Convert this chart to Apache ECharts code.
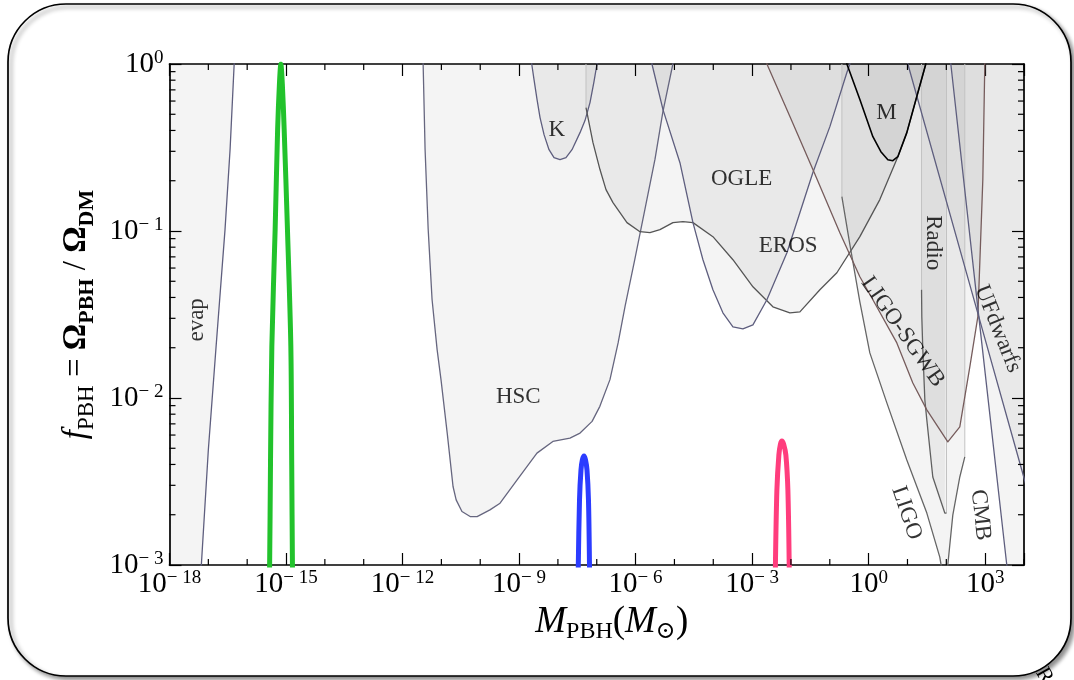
<!DOCTYPE html>
<html><head><meta charset="utf-8">
<script src="https://cdn.jsdelivr.net/npm/echarts@6/dist/echarts.min.js"></script>
<style>html,body{margin:0;padding:0;background:#fff}#c{width:1074px;height:680px}</style>
</head><body><div id="c"></div>
<script>
// ---- data: each point is [log10 M_PBH (M_sun), log10 f_PBH] ----
const evap = [[-18.3,-3.3],[-17.18,-3.0],[-17.0,-2.31],[-16.8,-1.69],[-16.57,-0.99],[-16.44,-0.51],[-16.335,0],[-16.3,0.2]];
const hsc = [[-11.50,0.3],[-11.47,0],[-11.42,-0.51],[-11.34,-0.99],[-11.24,-1.41],[-11.11,-1.71],[-11.01,-1.89],[-10.85,-2.21],[-10.70,-2.53],[-10.62,-2.61],[-10.47,-2.68],[-10.26,-2.71],[-10.08,-2.71],[-9.75,-2.67],[-9.49,-2.63],[-9.05,-2.49],[-8.54,-2.33],[-8.13,-2.26],[-7.69,-2.24],[-7.43,-2.21],[-7.12,-2.14],[-6.92,-2.05],[-6.66,-1.89],[-6.45,-1.67],[-6.27,-1.45],[-6.02,-1.17],[-5.76,-0.87],[-5.50,-0.57],[-5.30,-0.29],[-5.04,0],[-4.80,0.25]];
const kepler = [[-8.69,0.15],[-8.674,0],[-8.615,-0.093],[-8.537,-0.213],[-8.46,-0.321],[-8.357,-0.423],[-8.229,-0.513],[-8.10,-0.561],[-7.946,-0.573],[-7.792,-0.561],[-7.637,-0.513],[-7.431,-0.411],[-7.303,-0.339],[-7.174,-0.231],[-7.071,-0.105],[-6.994,0],[-6.96,0.1]];
const eros = [[-7.277,-0.261],[-7.097,-0.471],[-6.917,-0.632],[-6.762,-0.752],[-6.582,-0.830],[-6.222,-0.950],[-5.887,-1.004],[-5.63,-1.010],[-5.373,-0.992],[-5.038,-0.950],[-4.781,-0.944],[-4.523,-0.950],[-4.009,-1.034],[-3.494,-1.172],[-2.979,-1.334],[-2.465,-1.454],[-2.027,-1.490],[-1.77,-1.484],[-1.255,-1.352],[-0.818,-1.250],[-0.226,-1.034],[0.288,-0.812],[0.752,-0.555],[0.983,-0.411],[1.24,-0.195],[1.472,0],[1.52,0.05]];
const ogle = [[-5.62,0.15],[-5.579,0],[-5.295,-0.273],[-4.858,-0.591],[-4.523,-0.950],[-4.266,-1.172],[-4.009,-1.352],[-3.752,-1.490],[-3.494,-1.574],[-3.237,-1.586],[-2.979,-1.562],[-2.619,-1.412],[-2.104,-1.130],[-1.435,-0.650],[-0.998,-0.375],[-0.56,-0.051],[-0.483,0],[-0.45,0.05]];
const macho = [[-0.60,0.1],[-0.56,0],[-0.226,-0.213],[0.109,-0.435],[0.315,-0.525],[0.495,-0.573],[0.623,-0.579],[0.752,-0.555],[0.983,-0.411],[1.24,-0.195],[1.472,0],[1.50,0.05]];
const ligo = [[-0.689,-0.794],[-0.483,-1.082],[-0.226,-1.424],[0.031,-1.730],[0.469,-2.029],[0.983,-2.371],[1.498,-2.689],[1.832,-2.953],[1.974,-3.15],[2.038,-3.0],[2.167,-2.701],[2.347,-2.473],[2.476,-2.353]];
const radio = [[1.362,-1.352],[1.369,-1.514],[1.395,-1.712],[1.447,-2.011],[1.498,-2.131],[1.652,-2.473],[1.961,-2.689],[2.005,-2.689]];
const sgwb = [[-2.65,0.08],[-2.619,0],[-2.027,-0.315],[-1.435,-0.632],[-0.741,-1.010],[-0.226,-1.274],[0.109,-1.412],[0.726,-1.670],[1.138,-1.910],[1.498,-2.071],[2.038,-2.263],[2.347,-2.173],[2.605,-1.813],[2.811,-1.514],[2.837,-1.352],[2.94,-0.692],[2.991,0],[3.0,0.1]];
const ufdwarfs = [[0.85,0.13],[1.009,0],[2.837,-1.514],[3.943,-2.431],[4.2,-2.645]];
const cmb = [[2.06,0.12],[2.116,0],[2.837,-1.514],[3.557,-3.0],[3.8,-3.5],[4.3,-3.5]];
// mass functions (coloured peaks)
const greenPeak = [[-15.45,-3.3],[-15.422,-3.0],[-15.40,-2.4],[-15.365,-1.69],[-15.28,-0.99],[-15.216,-0.39],[-15.17,-0.12],[-15.133,0],[-15.095,-0.12],[-15.048,-0.39],[-14.963,-0.99],[-14.876,-1.69],[-14.853,-2.4],[-14.835,-3.0],[-14.82,-3.3]];
const bluePeak = [[-7.49,-3.3],[-7.475,-3.0],[-7.444,-2.611],[-7.406,-2.431],[-7.37,-2.37],[-7.328,-2.347],[-7.29,-2.37],[-7.251,-2.431],[-7.213,-2.611],[-7.187,-3.0],[-7.18,-3.3]];
const pinkPeak = [[-2.41,-3.3],[-2.40,-3.0],[-2.362,-2.551],[-2.311,-2.341],[-2.27,-2.275],[-2.233,-2.257],[-2.19,-2.275],[-2.131,-2.341],[-2.079,-2.551],[-2.045,-3.0],[-2.04,-3.3]];
// region labels: [text, log10 M, log10 f, rotation]
const regionLabels = [
  ['evap',-17.295,-1.532,90],['K',-8.031,-0.393,0],['OGLE',-3.27,-0.688,0],['EROS',-2.071,-1.088,0],
  ['M',0.461,-0.293,0],['HSC',-9.019,-1.995,0],['Radio',1.66,-1.07,-90],['LIGO-SGWB',0.88,-1.604,-55],
  ['UFdwarfs',3.325,-1.586,-68],['LIGO',0.976,-2.689,-71],['CMB',2.88,-2.701,-84]
];
// axis ticks
const xRange = [-18, 4];
const yRange = [-3, 0];
const xMinorExps = [-17,-16,-14,-13,-11,-10,-8,-7,-5,-4,-2,-1,1,2,4];
const yMinorMantissas = [2,3,4,5,6,7,8,9];
const yDecades = [-3,-2,-1];

// ---- build ----
const SERIF = 'Liberation Serif, DejaVu Serif, serif';
const FILL = 'rgba(0,0,0,0.058)';
const EDGE = '#c2c2c2';
const P = p => [Math.pow(10,p[0]), Math.pow(10,p[1])];
const XMIN = Math.pow(10,xRange[0]), XMAX = Math.pow(10,xRange[1]);
const YMIN = Math.pow(10,yRange[0]), YMAX = Math.pow(10,yRange[1]);

const series = [];
function fill(pts){ series.push({type:'line',data:pts.map(P),symbol:'none',lineStyle:{opacity:0,width:0},areaStyle:{origin:1,color:FILL},z:1,silent:true}); }
function line(pts,color,width,z,smooth){ series.push({type:'line',data:pts.map(P),symbol:'none',smooth:smooth||false,lineStyle:{color:color,width:width,join:'round'},z:z||3,silent:true}); }
function edge(c){ series.push({type:'line',data:[[c[0],0],c].map(P),symbol:'none',lineStyle:{color:EDGE,width:1},z:2,silent:true}); }
function withEdges(curve,left,right){
  const r = curve.slice();
  if(left) r.unshift([curve[0][0],0.3]);
  if(right) r.push([curve[curve.length-1][0],0.3]);
  return r;
}
const BLUEGRAY = '#5e5e7e';
fill(evap); line(evap,BLUEGRAY,1.3);
fill(hsc); line(hsc,'#66667f',1.3);
fill(kepler); line(kepler,BLUEGRAY,1.3);
fill(withEdges(eros,true,false)); line(eros,'#555555',1.3); edge(eros[0]);
fill(ogle); line(ogle,BLUEGRAY,1.3);
fill(withEdges(ligo,true,true)); line(ligo,'#666666',1.3); edge(ligo[0]); edge(ligo[ligo.length-1]);
fill(withEdges(radio,true,true)); line(radio,'#606060',1.3); edge(radio[0]); edge(radio[radio.length-1]);
fill(sgwb); line(sgwb,'#765c5c',1.3);
fill(ufdwarfs); line(ufdwarfs,BLUEGRAY,1.3);
fill(cmb); line(cmb,BLUEGRAY,1.3);
fill(macho); line(macho,'#000000',1.6,4);
line(greenPeak,'#22c22c',5,6,0.3);
line(bluePeak,'#2b3cff',5,6,0.3);
line(pinkPeak,'#ff3d7d',5,6,0.3);

series.push({type:'scatter',symbol:'circle',symbolSize:1,itemStyle:{color:'rgba(0,0,0,0)'},z:7,silent:true,
  data:regionLabels.map(l=>({value:P([l[1],l[2]]),label:{show:true,formatter:l[0],rotate:l[3],position:'inside',align:'center',verticalAlign:'middle',fontFamily:SERIF,fontSize:23,color:'#000'}}))});

// minor ticks drawn through the axes' scales
const tickStyle = {stroke:'#000',lineWidth:1.2};
series.push({type:'custom',silent:true,z:10,clip:false,
  data:xMinorExps.map(e=>[Math.pow(10,e),YMIN]),
  renderItem:(params,api)=>{const x=api.value(0);const b=api.coord([x,YMIN]);const t=api.coord([x,YMAX]);
    return {type:'group',children:[{type:'line',shape:{x1:b[0],y1:b[1],x2:b[0],y2:b[1]-6},style:tickStyle},{type:'line',shape:{x1:t[0],y1:t[1],x2:t[0],y2:t[1]+6},style:tickStyle}]};}});
const yMinorVals = [];
yDecades.forEach(d=>yMinorMantissas.forEach(m=>yMinorVals.push(m*Math.pow(10,d))));
series.push({type:'custom',silent:true,z:10,clip:false,
  data:yMinorVals.map(v=>[XMIN,v]),
  renderItem:(params,api)=>{const y=api.value(1);const l=api.coord([XMIN,y]);const r=api.coord([XMAX,y]);
    return {type:'group',children:[{type:'line',shape:{x1:l[0],y1:l[1],x2:l[0]+6,y2:l[1]},style:tickStyle},{type:'line',shape:{x1:r[0],y1:r[1],x2:r[0]-6,y2:r[1]},style:tickStyle}]};}});

const sup = e => e<0 ? '\u2212 '+(-e) : String(e);
const tickRich = {b:{fontFamily:SERIF,fontSize:29,lineHeight:31,color:'#000'},s:{fontFamily:SERIF,fontSize:19,lineHeight:20,verticalAlign:'top',color:'#000'}};
const axLine = {show:true,onZero:false,lineStyle:{color:'#000',width:1.7}};
const axTick = {show:true,inside:true,length:12,lineStyle:{color:'#000',width:1.2}};

const option = {
  animation:false,
  backgroundColor:'transparent',
  textStyle:{fontFamily:SERIF},
  grid:{left:169.5,right:50,top:64,bottom:115,containLabel:false},
  graphic:[
    {type:'rect',z:-100,shape:{x:8,y:4,width:1063,height:672,r:58},style:{fill:'#fff',stroke:'#000',lineWidth:1.7,shadowBlur:4,shadowOffsetX:3,shadowOffsetY:3,shadowColor:'rgba(0,0,0,0.45)'}},
    {type:'text',z:100,x:1050,y:664,rotation:-1.05,style:{text:'R',font:'22px Liberation Serif',fill:'#000'}}
  ],
  xAxis:[
    {type:'log',logBase:10,min:XMIN,max:XMAX,interval:3,position:'bottom',axisLine:axLine,axisTick:axTick,splitLine:{show:false},
     axisLabel:{margin:4,formatter:v=>{const e=Math.round(Math.log10(v));if(e%3!==0||e>3)return '';return '{b|10}{s|'+sup(e)+'}';},rich:tickRich},
     name:'{i|M}{s|PBH}{n|(}{i|M}{s|\u2299}{n|)}',nameLocation:'middle',nameGap:33,
     nameTextStyle:{padding:[0,0,0,30],rich:{i:{fontFamily:SERIF,fontStyle:'italic',fontSize:37,lineHeight:42,color:'#000'},n:{fontFamily:SERIF,fontSize:37,lineHeight:42,color:'#000'},s:{fontFamily:SERIF,fontSize:24,lineHeight:25,verticalAlign:'bottom',color:'#000'}}}},
    {type:'log',logBase:10,min:XMIN,max:XMAX,interval:3,position:'top',axisLine:axLine,axisTick:axTick,axisLabel:{show:false},splitLine:{show:false}}
  ],
  yAxis:[
    {type:'log',logBase:10,min:YMIN,max:YMAX,interval:1,position:'left',axisLine:axLine,axisTick:axTick,splitLine:{show:false},
     axisLabel:{margin:6,formatter:v=>{const e=Math.round(Math.log10(v));return '{b|10}{s|'+sup(e)+'}';},rich:tickRich},
     name:'{i|f}{s|PBH}{n| = }{bo|\u03A9}{bs|PBH}{n| / }{bo|\u03A9}{bs|DM}',nameLocation:'middle',nameGap:66,
     nameTextStyle:{rich:{i:{fontFamily:SERIF,fontStyle:'italic',fontSize:33,lineHeight:44,color:'#000'},n:{fontFamily:SERIF,fontSize:33,lineHeight:44,color:'#000'},bo:{fontFamily:SERIF,fontWeight:'bold',fontSize:33,lineHeight:44,color:'#000'},s:{fontFamily:SERIF,fontSize:23,lineHeight:26,verticalAlign:'bottom',color:'#000'},bs:{fontFamily:SERIF,fontWeight:'bold',fontSize:22,lineHeight:26,verticalAlign:'bottom',color:'#000'}}}},
    {type:'log',logBase:10,min:YMIN,max:YMAX,interval:1,position:'right',axisLine:axLine,axisTick:axTick,axisLabel:{show:false},splitLine:{show:false}}
  ],
  series:series
};
const chart = echarts.init(document.getElementById('c'),null,{renderer:'canvas'});
chart.setOption(option);
</script>
</body></html>
